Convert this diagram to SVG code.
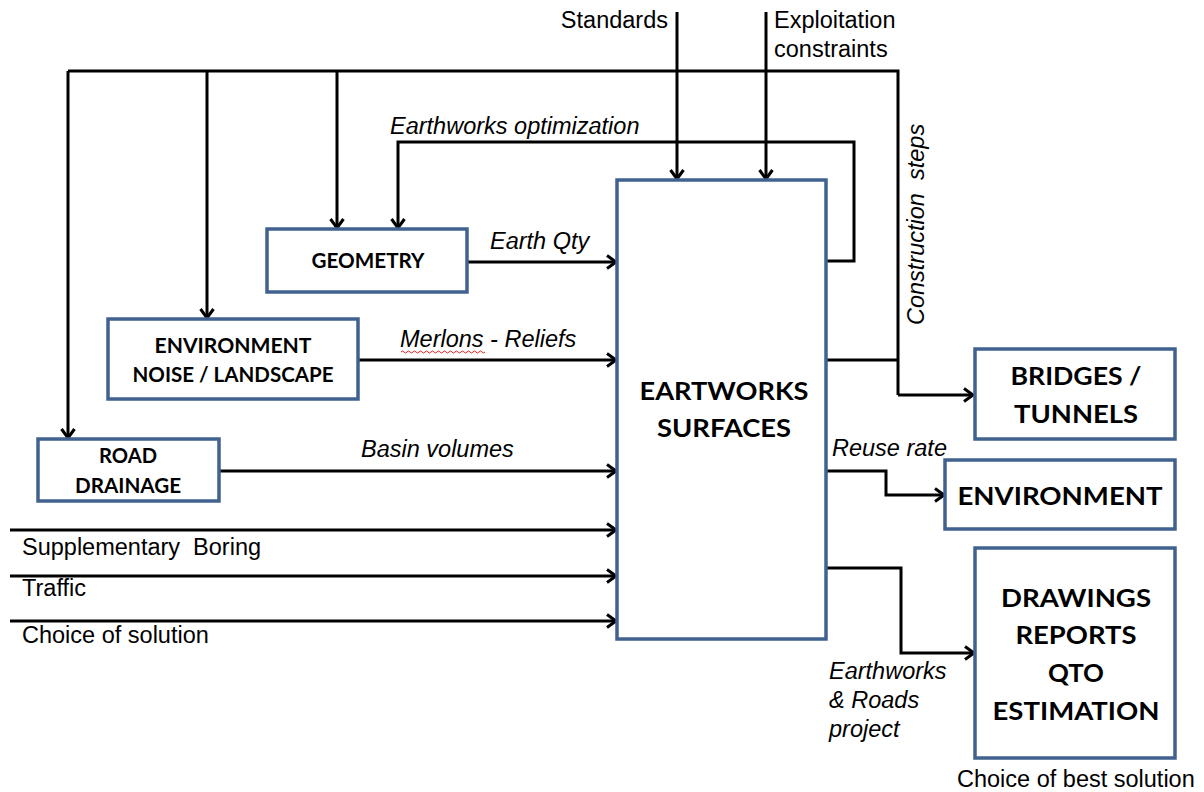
<svg xmlns="http://www.w3.org/2000/svg" width="1204" height="792" viewBox="0 0 1204 792">
  <style>
    .box { fill: #ffffff; stroke: #41628f; stroke-width: 3.5; }
    .wire { fill: none; stroke: #000; stroke-width: 3; stroke-linejoin: miter; }
    .lbl { font-family: "Liberation Sans", Arial, sans-serif; font-size: 23.5px; fill: #000; }
    .it { font-style: italic; }
    .bx { font-family: Lato, "Open Sans", sans-serif; font-weight: bold; fill: #000; text-anchor: middle; }
    .sm { font-size: 21px; }
    .lg { font-size: 24.5px; }
  </style>
  <defs>
    <marker id="arr" markerWidth="16" markerHeight="16" refX="12" refY="8" orient="auto" markerUnits="userSpaceOnUse">
      <path d="M3,1.5 L12,8 L3,14.5" fill="none" stroke="#000" stroke-width="3"/>
    </marker>
  </defs>

  <rect width="1204" height="792" fill="#fff"/>

  <!-- connectors -->
  <g id="connectors">
    <!-- shared distribution bus along the top -->
    <path class="wire" d="M68,71 H898 V395" />
    <path class="wire" d="M68,71 V438" marker-end="url(#arr)"/>
    <path class="wire" d="M207,71 V318" marker-end="url(#arr)"/>
    <path class="wire" d="M337,71 V228" marker-end="url(#arr)"/>
    <!-- earthworks optimization feedback loop -->
    <path class="wire" d="M826,261 H854 V142 H398 V228" marker-end="url(#arr)"/>
    <!-- external inputs from above -->
    <path class="wire" d="M677,12 V179" marker-end="url(#arr)"/>
    <path class="wire" d="M766,12 V179" marker-end="url(#arr)"/>
    <!-- inputs into the central block -->
    <path class="wire" d="M467,262 H616" marker-end="url(#arr)"/>
    <path class="wire" d="M358,360 H616" marker-end="url(#arr)"/>
    <path class="wire" d="M219,471 H616" marker-end="url(#arr)"/>
    <path class="wire" d="M10,530 H616" marker-end="url(#arr)"/>
    <path class="wire" d="M10,576 H616" marker-end="url(#arr)"/>
    <path class="wire" d="M10,621 H616" marker-end="url(#arr)"/>
    <!-- outputs -->
    <path class="wire" d="M826,360 H898"/>
    <path class="wire" d="M898,395 H973" marker-end="url(#arr)"/>
    <path class="wire" d="M826,471 H886 V495 H944" marker-end="url(#arr)"/>
    <path class="wire" d="M826,568 H901 V653 H974" marker-end="url(#arr)"/>
  </g>

  <!-- connector labels -->
  <g id="labels">
    <text class="lbl" x="668" y="28" text-anchor="end">Standards</text>
    <text class="lbl" x="774" y="28">Exploitation</text>
    <text class="lbl" x="774" y="57">constraints</text>
    <text class="lbl it" x="390" y="134">Earthworks optimization</text>
    <text class="lbl it" x="490" y="249">Earth Qty</text>
    <text class="lbl it" x="400" y="347">Merlons - Reliefs</text>
    <path d="M401,352 q1.5,-2 3,0 t3,0 t3,0 t3,0 t3,0 t3,0 t3,0 t3,0 t3,0 t3,0 t3,0 t3,0 t3,0 t3,0 t3,0 t3,0 t3,0 t3,0 t3,0 t3,0 t3,0 t3,0 t3,0 t3,0 t3,0 t3,0 t3,0 t3,0" fill="none" stroke="#e02020" stroke-width="1"/>
    <text class="lbl it" x="361" y="457">Basin volumes</text>
    <text class="lbl" x="22" y="555">Supplementary&#160; Boring</text>
    <text class="lbl" x="22" y="596">Traffic</text>
    <text class="lbl" x="22" y="643">Choice of solution</text>
    <text class="lbl it" transform="translate(924,325) rotate(-90)">Construction&#160; steps</text>
    <text class="lbl it" x="832" y="456">Reuse rate</text>
    <text class="lbl it" x="829" y="679">Earthworks</text>
    <text class="lbl it" x="829" y="708">&amp; Roads</text>
    <text class="lbl it" x="829" y="737">project</text>
    <text class="lbl" x="957" y="787">Choice of best solution</text>
  </g>

  <g id="geometry">
    <rect class="box" x="267" y="229" width="200" height="63"/>
    <text class="bx sm" x="368" y="268" textLength="113" lengthAdjust="spacingAndGlyphs">GEOMETRY</text>
  </g>

  <g id="environment-noise">
    <rect class="box" x="108" y="319" width="250" height="80"/>
    <text class="bx sm" x="233" y="353" textLength="157" lengthAdjust="spacingAndGlyphs">ENVIRONMENT</text>
    <text class="bx sm" x="233" y="382" textLength="201" lengthAdjust="spacingAndGlyphs">NOISE / LANDSCAPE</text>
  </g>

  <g id="road-drainage">
    <rect class="box" x="38" y="439" width="181" height="62"/>
    <text class="bx sm" x="128" y="463" textLength="58" lengthAdjust="spacingAndGlyphs">ROAD</text>
    <text class="bx sm" x="128" y="493" textLength="106" lengthAdjust="spacingAndGlyphs">DRAINAGE</text>
  </g>

  <g id="earthworks-surfaces">
    <rect class="box" x="617" y="180" width="209" height="459"/>
    <text class="bx lg" x="724" y="400" textLength="169" lengthAdjust="spacingAndGlyphs">EARTWORKS</text>
    <text class="bx lg" x="724" y="437" textLength="134" lengthAdjust="spacingAndGlyphs">SURFACES</text>
  </g>

  <g id="bridges-tunnels">
    <rect class="box" x="975" y="349" width="200" height="90"/>
    <text class="bx lg" x="1076" y="385" textLength="131" lengthAdjust="spacingAndGlyphs">BRIDGES /</text>
    <text class="bx lg" x="1076" y="423" textLength="124" lengthAdjust="spacingAndGlyphs">TUNNELS</text>
  </g>

  <g id="environment">
    <rect class="box" x="945" y="460" width="230" height="69"/>
    <text class="bx lg" x="1060" y="505" textLength="205" lengthAdjust="spacingAndGlyphs">ENVIRONMENT</text>
  </g>

  <g id="drawings">
    <rect class="box" x="975" y="548" width="200" height="210"/>
    <text class="bx lg" x="1076" y="607" textLength="150" lengthAdjust="spacingAndGlyphs">DRAWINGS</text>
    <text class="bx lg" x="1076" y="644" textLength="121" lengthAdjust="spacingAndGlyphs">REPORTS</text>
    <text class="bx lg" x="1076" y="682" textLength="56" lengthAdjust="spacingAndGlyphs">QTO</text>
    <text class="bx lg" x="1076" y="720" textLength="167" lengthAdjust="spacingAndGlyphs">ESTIMATION</text>
  </g>
</svg>
